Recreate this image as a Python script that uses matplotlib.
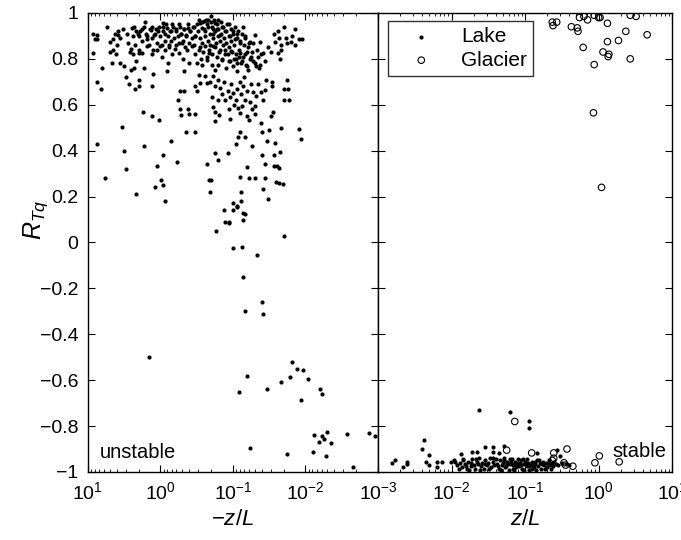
import matplotlib.pyplot as plt
import numpy as np

plt.rcParams['font.family'] = ['Liberation Sans', 'DejaVu Sans']
plt.rcParams['mathtext.fontset'] = 'custom'
plt.rcParams['mathtext.it'] = 'Liberation Sans:italic'
plt.rcParams['mathtext.rm'] = 'Liberation Sans'

# points are (log10(|z/L|), R_Tq)
lake_unstable = [
    # scattered points, lower part
    (0.88, 0.43), (0.87, 0.70), (0.82, 0.67), (0.93, 0.825), (0.81, 0.76), (0.77, 0.28), (0.67, 0.78),
    (0.53, 0.505), (0.50, 0.40), (0.48, 0.32), (0.48, 0.72), (0.50, 0.77), (0.41, 0.75), (0.43, 0.69),
    (0.35, 0.67), (0.34, 0.21), (0.30, 0.68), (0.30, 0.71), (0.36, 0.76), (0.33, 0.79), (0.24, 0.57),
    (0.22, 0.42), (0.22, 0.76), (0.12, 0.55), (0.11, 0.68), (0.10, 0.735), (0.08, 0.24), (0.04, 0.335),
    (0.02, 0.535), (-0.01, 0.27), (-0.03, 0.38), (-0.04, 0.25), (-0.07, 0.18), (-0.09, 0.745), (-0.10, 0.78),
    (-0.14, 0.44), (-0.23, 0.35), (-0.24, 0.62), (-0.27, 0.66), (-0.27, 0.58), (-0.32, 0.66), (-0.33, 0.745),
    (-0.28, 0.555), (-0.35, 0.48), (-0.38, 0.58), (-0.40, 0.56), (-0.48, 0.56), (-0.48, 0.48), (-0.48, 0.68),
    (-0.50, 0.66), (-0.54, 0.695), (-0.64, 0.34), (-0.67, 0.27), (-0.70, 0.27), (-0.69, 0.22), (-0.75, 0.39),
    (-0.76, 0.53), (-0.77, 0.05), (-0.80, 0.36), (-0.88, 0.14), (-0.89, 0.09), (-0.93, 0.39), (-0.94, 0.09),
    (-0.95, 0.085), (-1.00, 0.14), (-1.00, 0.17), (-1.05, 0.16), (-1.06, 0.155), (-1.11, 0.22), (-1.10, 0.285),
    (-1.11, 0.18), (-1.14, 0.13), (-1.14, 0.10), (-1.16, 0.125), (-1.00, -0.025), (-1.13, -0.02),
    (-1.33, -0.055), (-1.14, -0.15), (-1.04, 0.43), (-1.07, 0.46), (-1.10, 0.48), (-1.16, 0.46),
    (-1.19, 0.33), (-1.22, 0.28), (-1.27, 0.42), (-1.30, 0.28), (-1.22, 0.535), (-1.20, 0.55), (-1.26, 0.58),
    (-1.31, 0.56), (-1.39, 0.52), (-1.40, 0.48), (-1.40, 0.38), (-1.41, 0.235), (-1.44, 0.28), (-1.48, 0.19),
    (-1.44, 0.34), (-1.47, 0.44), (-1.50, 0.49), (-1.52, 0.55), (-1.55, 0.57), (-1.54, 0.68), (-1.56, 0.38),
    (-1.56, 0.335), (-1.58, 0.435), (-1.59, 0.265), (-1.61, 0.335), (-1.63, 0.26), (-1.64, 0.325),
    (-1.65, 0.395), (-1.66, 0.50), (-1.69, 0.255), (-1.70, 0.67), (-1.70, 0.62), (-1.71, 0.03), (-1.76, 0.67),
    (-1.78, 0.62), (-1.75, 0.71), (-1.91, 0.495), (-1.94, 0.45), (-1.54, 0.70),
    # negative correlations
    (0.15, -0.50), (-1.08, -0.65), (-1.20, -0.58), (-1.23, -0.895), (-1.17, -0.30), (-1.40, -0.26),
    (-1.41, -0.31), (-1.47, -0.64), (-1.67, -0.61), (-1.75, -0.92), (-1.79, -0.585), (-1.82, -0.52),
    (-1.88, -0.55), (-1.97, -0.555), (-1.94, -0.685), (-2.04, -0.595), (-2.10, -0.915), (-2.12, -0.84),
    (-2.19, -0.87), (-2.20, -0.64), (-2.23, -0.66), (-2.23, -0.845), (-2.26, -0.855), (-2.28, -0.93),
    (-2.30, -0.825), (-2.35, -0.875), (-2.58, -0.835), (-2.65, -0.98), (-2.87, -0.83), (-2.96, -0.845),
    # upper band
    (0.93, 0.91), (0.87, 0.905), (0.90, 0.885), (0.87, 0.885), (0.74, 0.94), (0.70, 0.875), (0.65, 0.885),
    (0.59, 0.92), (0.59, 0.905), (0.52, 0.93), (0.46, 0.91), (0.39, 0.935), (0.36, 0.94), (0.31, 0.91),
    (0.29, 0.90), (0.26, 0.93), (0.21, 0.96), (0.20, 0.91), (0.18, 0.885), (0.13, 0.925), (0.11, 0.94),
    (0.09, 0.905), (0.06, 0.93), (0.03, 0.92), (-0.03, 0.955), (-0.03, 0.94), (-0.07, 0.91), (-0.09, 0.935),
    (-0.14, 0.92), (-0.16, 0.95), (-0.21, 0.93), (-0.25, 0.95), (-0.28, 0.91), (-0.32, 0.93), (-0.35, 0.905),
    (-0.38, 0.935), (-0.41, 0.92), (-0.46, 0.94), (-0.48, 0.90), (-0.53, 0.97), (-0.55, 0.955), (-0.57, 0.935),
    (-0.60, 0.965), (-0.62, 0.92), (-0.64, 0.95), (-0.66, 0.97), (-0.70, 0.985), (-0.71, 0.94), (-0.73, 0.91),
    (-0.75, 0.955), (-0.78, 0.93), (-0.80, 0.97), (-0.82, 0.905), (-0.85, 0.94), (-0.89, 0.92), (-0.94, 0.95),
    (-0.96, 0.90), (-1.00, 0.92), (-1.03, 0.885), (-1.06, 0.91), (-1.10, 0.87), (-1.14, 0.94), (-1.16, 0.90),
    (-1.21, 0.85), (-1.23, 0.875), (-1.28, 0.87), (-1.31, 0.905), (-1.33, 0.84), (-1.37, 0.875), (-1.41, 0.825),
    (-1.48, 0.85), (-1.52, 0.83), (-1.56, 0.91), (-1.58, 0.875), (-1.62, 0.92), (-1.64, 0.89), (-1.66, 0.84),
    (-1.67, 0.86), (-1.71, 0.94), (-1.73, 0.89), (-1.75, 0.87), (-1.80, 0.875), (-1.82, 0.90), (-1.86, 0.93),
    (-1.85, 0.86), (-1.91, 0.885), (-1.95, 0.885), (-1.65, 0.80), (-1.62, 0.825),
    # 0.78 - 0.88 band
    (0.65, 0.84), (0.61, 0.82), (0.56, 0.78), (0.40, 0.845), (0.38, 0.82), (0.30, 0.825), (0.25, 0.825),
    (0.18, 0.855), (0.11, 0.82), (0.05, 0.84), (0.00, 0.855), (-0.02, 0.81), (-0.07, 0.84), (-0.12, 0.86),
    (-0.16, 0.82), (-0.20, 0.845), (-0.25, 0.825), (-0.30, 0.87), (-0.31, 0.80), (-0.37, 0.84), (-0.39, 0.78),
    (-0.44, 0.855), (-0.48, 0.82), (-0.50, 0.78), (-0.53, 0.84), (-0.56, 0.80), (-0.58, 0.775), (-0.62, 0.855),
    (-0.64, 0.795), (-0.67, 0.825), (-0.71, 0.775), (-0.73, 0.855), (-0.75, 0.75), (-0.78, 0.81), (-0.80, 0.775),
    (-0.82, 0.84), (-0.85, 0.795), (-0.89, 0.82), (-0.91, 0.76), (-0.94, 0.79), (-0.98, 0.835), (-1.00, 0.77),
    (-1.04, 0.80), (-1.06, 0.745), (-1.10, 0.825), (-1.11, 0.78), (-1.14, 0.81), (-1.15, 0.72), (-1.18, 0.775),
    (-1.21, 0.75), (-1.25, 0.81), (-1.28, 0.79), (-1.32, 0.77), (-1.37, 0.775), (-1.39, 0.82), (-1.44, 0.79),
    # 0.6 - 0.75 band
    (-0.53, 0.73), (-0.61, 0.725), (-0.64, 0.695), (-0.69, 0.70), (-0.73, 0.725), (-0.75, 0.68), (-0.80, 0.71),
    (-0.82, 0.675), (-0.85, 0.645), (-0.88, 0.70), (-0.89, 0.62), (-0.93, 0.66), (-0.96, 0.635), (-0.98, 0.69),
    (-1.00, 0.65), (-1.04, 0.62), (-1.05, 0.67), (-1.10, 0.70), (-1.11, 0.645), (-1.14, 0.68), (-1.16, 0.62),
    (-1.20, 0.66), (-1.23, 0.61), (-1.25, 0.69), (-1.28, 0.655), (-1.30, 0.595), (-1.32, 0.64), (-1.35, 0.69),
    (-1.39, 0.655), (-1.41, 0.62), (-1.44, 0.665), (-1.46, 0.71), (-0.71, 0.635), (-0.72, 0.59), (-0.75, 0.57),
    (-0.80, 0.62), (-0.81, 0.555), (-0.94, 0.58), (-0.96, 0.54), (-1.02, 0.60), (-1.07, 0.585), (-1.10, 0.565),
    (-1.13, 0.595),
    # dense core
    (-0.50, 0.95), (-0.52, 0.92), (-0.55, 0.89), (-0.57, 0.96), (-0.58, 0.87), (-0.60, 0.93), (-0.62, 0.90),
    (-0.63, 0.97), (-0.65, 0.88), (-0.66, 0.94), (-0.68, 0.91), (-0.69, 0.86), (-0.70, 0.96), (-0.72, 0.93),
    (-0.73, 0.89), (-0.74, 0.97), (-0.76, 0.92), (-0.77, 0.87), (-0.78, 0.95), (-0.79, 0.90), (-0.80, 0.93),
    (-0.82, 0.88), (-0.83, 0.96), (-0.84, 0.91), (-0.86, 0.86), (-0.87, 0.94), (-0.88, 0.89), (-0.90, 0.92),
    (-0.91, 0.87), (-0.92, 0.95), (-0.94, 0.90), (-0.95, 0.85), (-0.97, 0.93), (-0.98, 0.88), (-1.00, 0.91),
    (-1.02, 0.86), (-1.03, 0.94), (-1.05, 0.89), (-1.07, 0.92), (-1.08, 0.84), (-1.10, 0.88), (-1.12, 0.91),
    (-1.15, 0.86), (-1.17, 0.89), (-1.20, 0.83), (-1.22, 0.87), (-0.54, 0.85), (-0.59, 0.83), (-0.64, 0.81),
    (-0.67, 0.84), (-0.71, 0.82), (-0.75, 0.85), (-0.81, 0.83), (-0.85, 0.80), (-0.89, 0.84), (-0.93, 0.82),
    (-0.96, 0.79), (-0.99, 0.83), (-1.01, 0.80), (-1.04, 0.82), (-1.06, 0.78), (-1.09, 0.81), (-1.13, 0.79),
    (-1.16, 0.82), (-1.19, 0.77), (-1.24, 0.80), (-1.27, 0.83), (-1.30, 0.78), (-1.34, 0.81), (-1.36, 0.76),
    (0.28, 0.92), (0.25, 0.88), (0.22, 0.94), (0.19, 0.90), (0.16, 0.86), (0.14, 0.93), (0.12, 0.89),
    (0.10, 0.84), (0.07, 0.91), (0.05, 0.87), (0.02, 0.94), (0.00, 0.90), (-0.02, 0.86), (-0.04, 0.92),
    (-0.06, 0.88), (-0.08, 0.95), (-0.10, 0.90), (-0.12, 0.85), (-0.13, 0.92), (-0.15, 0.88), (-0.17, 0.94),
    (-0.19, 0.89), (-0.21, 0.86), (-0.22, 0.92), (-0.24, 0.90), (-0.26, 0.87), (-0.27, 0.94), (-0.29, 0.91),
    (-0.31, 0.88), (-0.33, 0.93), (-0.34, 0.85), (-0.36, 0.90), (-0.38, 0.95), (-0.40, 0.87), (-0.41, 0.92),
    (-0.43, 0.89), (-0.45, 0.94), (-0.47, 0.86), (-0.48, 0.90), (0.45, 0.87), (0.42, 0.83), (0.38, 0.90),
    (0.35, 0.86), (0.33, 0.92), (0.30, 0.84), (0.55, 0.89), (0.60, 0.86), (0.63, 0.91), (0.70, 0.83),
]

lake_stable = [
    (-1.63, -0.73), (-1.21, -0.74), (-0.94, -0.78), (-0.94, -0.81), (-2.40, -0.90), (-2.37, -0.86),
    (-2.30, -0.925), (-2.81, -0.96), (-2.77, -0.95), (-2.66, -0.98), (-2.61, -0.955), (-2.60, -0.965),
    (-2.34, -0.955), (-2.30, -0.97), (-2.20, -0.955), (-2.20, -0.98), (-2.13, -0.955), (-2.01, -0.955),
    (-1.97, -0.95), (-1.87, -0.92), (-1.72, -0.915), (-1.65, -0.915), (-1.55, -0.89), (-1.43, -0.89),
    (-1.43, -0.915), (-1.35, -0.917), (-1.28, -0.885), (-0.84, -0.917), (-0.56, -0.905), (-0.53, -0.93),
    (-0.50, -0.96), (-0.45, -0.965), (-0.40, -0.97),
    (-1.95, -0.955), (-1.92, -0.97), (-1.88, -0.96), (-1.86, -0.98), (-1.84, -0.95), (-1.82, -0.965),
    (-1.80, -0.975), (-1.78, -0.955), (-1.76, -0.99), (-1.74, -0.96), (-1.72, -0.945), (-1.70, -0.97),
    (-1.68, -0.985), (-1.66, -0.955), (-1.64, -0.965), (-1.62, -0.94), (-1.60, -0.975), (-1.58, -0.96),
    (-1.56, -0.985), (-1.54, -0.95), (-1.52, -0.97), (-1.50, -0.96), (-1.48, -0.94), (-1.46, -0.98),
    (-1.44, -0.955), (-1.42, -0.97), (-1.40, -0.945), (-1.38, -0.965), (-1.36, -0.985), (-1.34, -0.95),
    (-1.32, -0.97), (-1.30, -0.96), (-1.28, -0.94), (-1.26, -0.975), (-1.24, -0.955), (-1.22, -0.99),
    (-1.20, -0.965), (-1.18, -0.945), (-1.16, -0.97), (-1.14, -0.955), (-1.12, -0.98), (-1.10, -0.96),
    (-1.08, -0.975), (-1.06, -0.95), (-1.04, -0.985), (-1.02, -0.965), (-1.00, -0.955), (-0.98, -0.975),
    (-0.96, -0.96), (-0.94, -0.99), (-0.92, -0.97), (-0.90, -0.955), (-0.88, -0.98), (-0.86, -0.965),
    (-0.84, -0.95), (-0.82, -0.975), (-0.80, -0.96), (-0.78, -0.985), (-0.76, -0.955), (-0.74, -0.97),
    (-0.72, -0.96), (-0.70, -0.98), (-0.68, -0.95), (-0.66, -0.97), (-0.64, -0.96), (-0.62, -0.975),
    (-0.60, -0.955), (-0.58, -0.965), (-0.55, -0.97),
    (-1.90, -0.985), (-1.85, -0.945), (-1.79, -0.985), (-1.73, -0.975), (-1.67, -0.945), (-1.61, -0.99),
    (-1.55, -0.965), (-1.49, -0.985), (-1.43, -0.94), (-1.37, -0.975), (-1.33, -0.99), (-1.29, -0.95),
    (-1.25, -0.965), (-1.21, -0.945), (-1.17, -0.985), (-1.13, -0.965), (-1.09, -0.945), (-1.05, -0.97),
    (-1.01, -0.99), (-0.97, -0.945), (-0.93, -0.965), (-0.89, -0.97), (-0.85, -0.99), (-0.81, -0.95),
    (-0.77, -0.965), (-0.73, -0.985), (-0.69, -0.96), (-0.65, -0.985), (-1.27, -0.98), (-1.19, -0.955),
    (-1.11, -0.97), (-1.03, -0.945), (-0.95, -0.975), (-0.87, -0.955), (-1.15, -0.99), (-1.07, -0.96),
    (-0.99, -0.965), (-0.91, -0.985),
]

glacier_stable = [
    (-0.63, 0.96), (-0.62, 0.945), (-0.57, 0.96), (-0.37, 0.94), (-0.29, 0.935), (-0.28, 0.92),
    (-0.26, 0.98), (-0.20, 0.985), (-0.15, 0.97), (-0.21, 0.85), (-0.06, 0.99), (0.00, 0.98), (0.02, 0.98),
    (0.12, 0.955), (0.12, 0.875), (0.06, 0.83), (0.14, 0.82), (0.13, 0.81), (-0.06, 0.775), (0.27, 0.88),
    (0.37, 0.92), (0.43, 0.99), (0.51, 0.985), (0.43, 0.80), (0.66, 0.905), (-0.07, 0.565), (0.04, 0.24),
    (-1.14, -0.78), (-1.25, -0.905), (-0.91, -0.917), (-0.61, -0.917), (-0.61, -0.94), (-0.63, -0.95),
    (-0.43, -0.90), (-0.47, -0.96), (-0.45, -0.97), (-0.35, -0.975), (-0.05, -0.96), (0.01, -0.93),
    (0.28, -0.956),
]

yticks = [-1, -0.8, -0.6, -0.4, -0.2, 0, 0.2, 0.4, 0.6, 0.8, 1]
ytick_labels = ['\u22121', '\u22120.8', '\u22120.6', '\u22120.4', '\u22120.2', '0', '0.2', '0.4', '0.6', '0.8', '1']
xticks = [1e-3, 1e-2, 1e-1, 1e0, 1e1]
xtick_labels = ['$10^{-3}$', '$10^{-2}$', '$10^{-1}$', '$10^{0}$', '$10^{1}$']

lu = np.array(lake_unstable)
ls = np.array(lake_stable)
gs = np.array(glacier_stable)

fig = plt.figure(figsize=(6.81, 5.40), dpi=100)
ax1 = fig.add_axes([0.129, 0.126, 0.426, 0.850])
ax2 = fig.add_axes([0.555, 0.126, 0.432, 0.850])

dot = dict(s=9, c='black', marker='o', linewidths=0)
ring = dict(s=22, facecolors='none', edgecolors='black', marker='o', linewidths=0.8)

ax1.scatter(10 ** lu[:, 0], lu[:, 1], **dot)
ax2.scatter(10 ** ls[:, 0], ls[:, 1], label='Lake', **dot)
ax2.scatter(10 ** gs[:, 0], gs[:, 1], label='Glacier', **ring)

for ax in (ax1, ax2):
    ax.set_xscale('log')
    ax.set_ylim(-1, 1)
    ax.set_yticks(yticks)
    ax.tick_params(which='both', direction='in', top=True, right=True, labelsize=14)
    ax.tick_params(which='major', length=5, width=0.8)
    ax.tick_params(which='minor', length=2.5, width=0.6)
    ax.tick_params(axis='x', pad=7)
    ax.tick_params(axis='y', pad=7)
    for sp in ax.spines.values():
        sp.set_linewidth(1.0)
    ax.set_xticks(xticks)

ax1.set_xlim(10, 1e-3)
ax2.set_xlim(1e-3, 10)
# the shared 10^-3 label is drawn once, by the right panel
ax1.set_xticklabels([''] + xtick_labels[1:])
ax2.set_xticklabels(xtick_labels)
ax1.set_yticklabels(ytick_labels)
ax2.tick_params(labelleft=False)

ax1.set_xlabel('$-z/L$', fontsize=16, labelpad=4)
ax2.set_xlabel('$z/L$', fontsize=16, labelpad=4)
ax1.set_ylabel('$R_{Tq}$', fontsize=18)
ax1.yaxis.set_label_coords(-0.13, 0.55)

ax1.text(0.041, 0.031, 'unstable', transform=ax1.transAxes, fontsize=14.5, va='baseline', ha='left')
ax2.text(0.979, 0.033, 'stable', transform=ax2.transAxes, fontsize=14.5, va='baseline', ha='right')

leg = ax2.legend(loc='upper left', bbox_to_anchor=(0.034, 0.982), fontsize=15, frameon=True,
                 fancybox=False, edgecolor='black', handletextpad=0.6, borderpad=0.3,
                 labelspacing=0.2, markerscale=1.0, handlelength=2.6, borderaxespad=0)
leg.get_frame().set_linewidth(1.0)

plt.savefig('out.png', dpi=100)
